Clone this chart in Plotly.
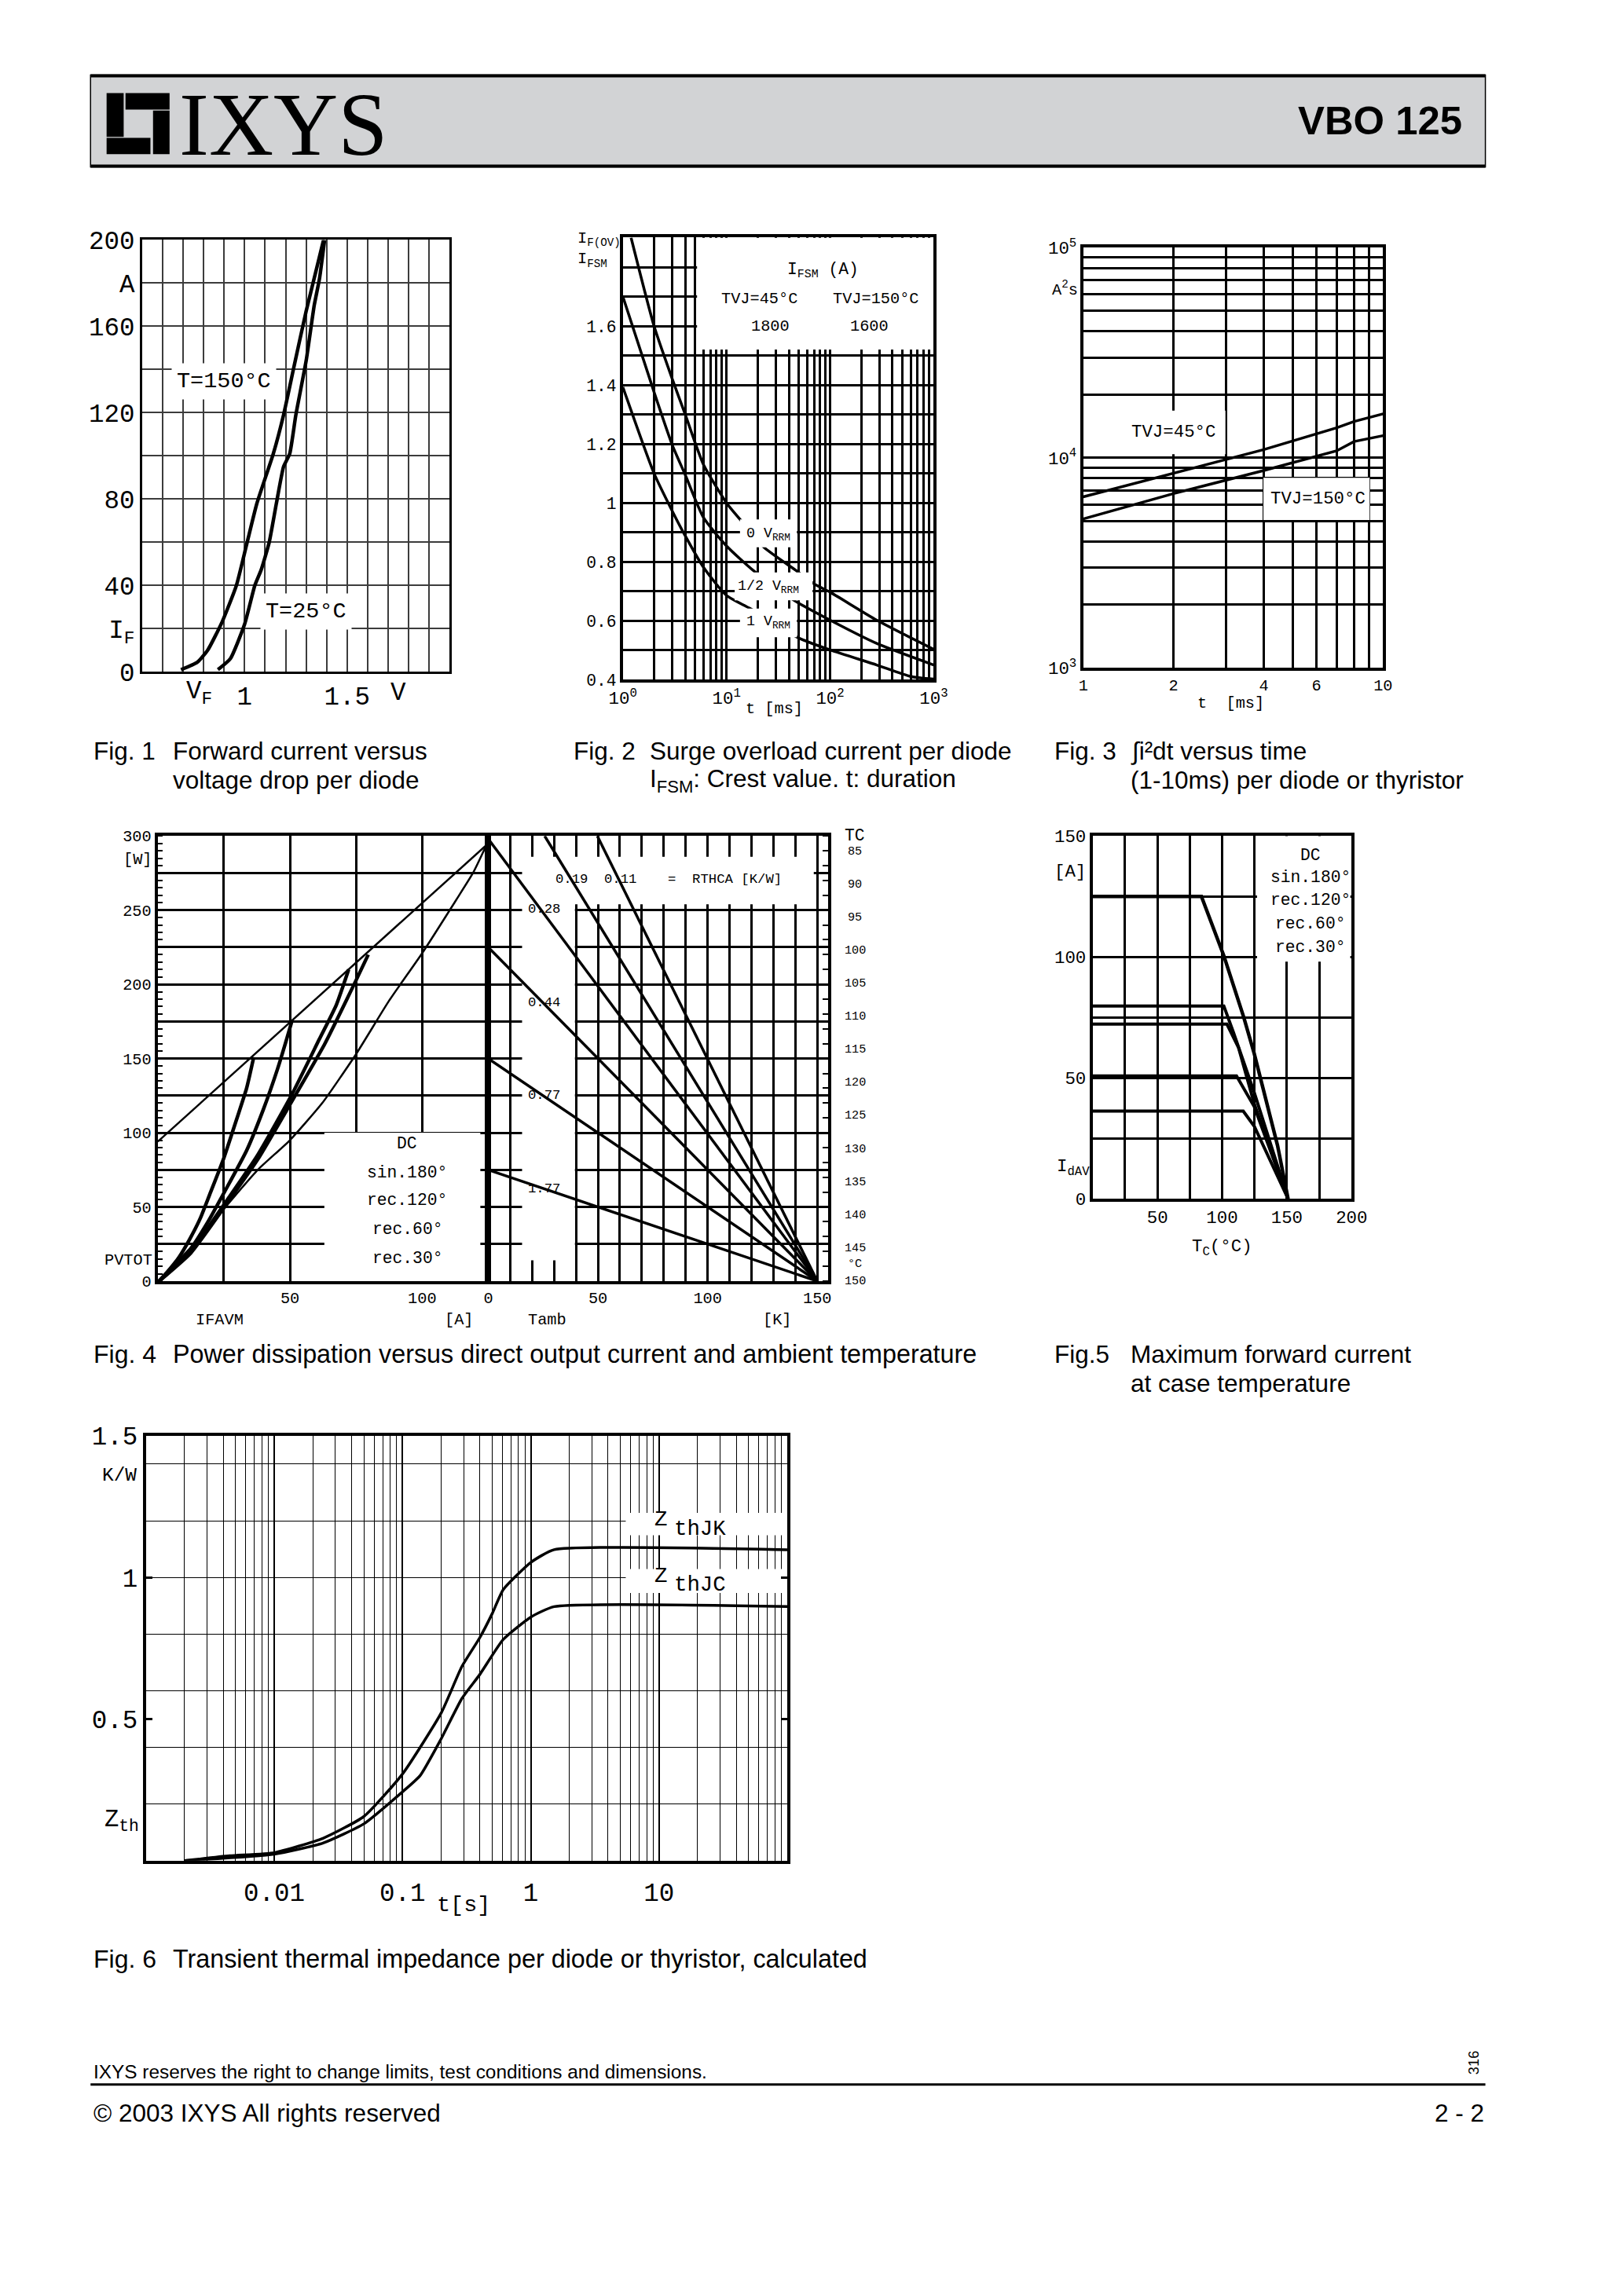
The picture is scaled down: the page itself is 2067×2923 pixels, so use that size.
import math
import plotly.graph_objects as go

W, H = 2067, 2923
MONO = "Liberation Mono"
SANS = "Liberation Sans"
SERIF = "Liberation Serif"

# ---------------- Fig. 1 : forward characteristic ----------------
f1_v150 = [0.69, 0.77, 0.82, 0.89, 0.96, 1.01, 1.06, 1.14, 1.19, 1.24, 1.30, 1.385]
f1_i150 = [1, 4.5, 10, 23, 40, 59, 78, 101, 119, 141, 167, 200]
f1_v25 = [0.87, 0.93, 1.00, 1.05, 1.08, 1.12, 1.155, 1.19, 1.22, 1.25, 1.30, 1.34, 1.365, 1.39]
f1_i25 = [1, 6, 22, 40, 47, 60, 78, 95, 101, 119, 144, 170, 182, 200]

# ---------------- Fig. 2 : surge overload current ----------------
f2_t0 = [1.2, 2, 3, 4, 6, 10, 13.5, 23, 48, 70, 100, 282, 1000]
f2_r0 = [1.9, 1.6, 1.42, 1.30, 1.13, 1.0, 0.944, 0.849, 0.768, 0.725, 0.697, 0.602, 0.503]
f2_t1 = [1, 2, 3, 4, 6, 10, 18.5, 45, 100, 282, 1000]
f2_r1 = [1.70, 1.376, 1.196, 1.095, 0.95, 0.854, 0.768, 0.669, 0.602, 0.523, 0.45]
f2_t2 = [1, 2, 3, 4, 6, 10, 17, 48, 100, 282, 600, 1000]
f2_r2 = [1.393, 1.10, 0.972, 0.888, 0.781, 0.686, 0.641, 0.544, 0.501, 0.45, 0.411, 0.402]

# ---------------- Fig. 3 : i2t ----------------
f3_t = [1, 2, 4, 7, 8, 10]
f3_i2t45 = [6520, 8470, 10950, 13900, 14900, 16200]
f3_i2t150 = [5120, 6760, 8710, 10800, 11960, 12760]

# ---------------- Fig. 4 : power dissipation ----------------
f4_env_i = [0, 125]
f4_env_p = [94, 295]
f4_r30_i = [0.5, 4, 8, 12, 16, 20, 25, 30, 33.6, 36.3]
f4_r30_p = [0, 7, 16, 28, 42, 60, 83, 110, 130, 151]
f4_r60_i = [0.5, 6, 12.5, 19, 25.2, 33.6, 40, 45.3, 48.4, 50.7]
f4_r60_p = [0, 10, 22, 40, 60, 88, 116, 143, 161, 175]
f4_r120_i = [0.5, 12.5, 25.2, 37.8, 50.5, 61.1, 67.5, 72.2]
f4_r120_p = [0, 20, 52, 85, 125, 163, 186, 210]
f4_s180_i = [0.5, 12.5, 25.2, 37.8, 50, 63.2, 74.8, 79.6]
f4_s180_p = [0, 19, 50, 82, 119, 160, 202, 220]
f4_dc_i = [0.5, 12.5, 25.2, 37.8, 50, 62.2, 75, 87.5, 100, 112.9, 119.2, 124.6]
f4_dc_p = [0, 20, 49, 75, 95, 120, 153, 189, 221, 257, 275, 295]
f4_rth_labels = ["0.11", "0.19", "0.28", "0.44", "0.77", "1.77"]
f4_rth_t0 = [49.7, 25.7, 0, 0, 0, 0]
f4_rth_p0 = [300, 300, 298, 225, 150, 75]
f4_rth_t1 = [150, 150, 150, 150, 150, 150]
f4_rth_p1 = [0, 0, 0, 0, 0, 0]
f4_tc_labels = ["85", "90", "95", "100", "105", "110", "115", "120", "125", "130", "135", "140", "145", "°C", "150"]
f4_tc_vals = [85, 90, 95, 100, 105, 110, 115, 120, 125, 130, 135, 140, 145, 147.4, 150]
f4_legend = ["DC", "sin.180°", "rec.120°", "rec.60°", "rec.30°"]

# ---------------- Fig. 5 : max forward current vs case temp ----------------
f5_dc_t = [0, 84, 101.3, 116.7, 124.8, 134.8, 142.8, 150.9]
f5_dc_i = [125, 125, 100.5, 75, 60, 39.3, 22, 0]
f5_s180_t = [0, 101.3, 108.7, 124.8, 150.9]
f5_s180_i = [79.7, 79.7, 68.8, 43.9, 0]
f5_r120_t = [0, 103.7, 112.7, 124.8, 150.9]
f5_r120_i = [72.2, 72.2, 62.4, 39.3, 0]
f5_r60_t = [0, 111.1, 124.8, 150.9]
f5_r60_i = [50.8, 50.8, 38.1, 0]
f5_r30_t = [0, 116.3, 124.8, 150.9]
f5_r30_i = [36.2, 36.2, 30, 0]

# ---------------- Fig. 6 : transient thermal impedance ----------------
f6_t_jk = [0.002, 0.0045, 0.01, 0.024, 0.05, 0.1, 0.2, 0.29, 0.4, 0.5, 0.61, 1.0, 1.52, 100]
f6_z_jk = [0, 0.017, 0.028, 0.079, 0.156, 0.306, 0.521, 0.685, 0.787, 0.872, 0.957, 1.053, 1.098, 1.098]
f6_t_jc = [0.002, 0.01, 0.024, 0.05, 0.1, 0.137, 0.2, 0.29, 0.4, 0.61, 1.0, 1.52, 100]
f6_z_jc = [0, 0.023, 0.062, 0.13, 0.243, 0.30, 0.43, 0.572, 0.657, 0.781, 0.86, 0.897, 0.897]

# page placement (target page pixels -> figure paper fractions)
OX, SX = 26.5, 0.980
OY, SY = 25.4, 0.9877
FS = 1.0 / 0.984


def X(px):
    return ((px - OX) / SX) / W


def Y(py):
    return 1 - ((py - OY) / SY) / H


fig = go.Figure()


def add_line(x, y, xa, ya, w, shape="linear", smoothing=None):
    line = dict(color="black", width=w, shape=shape)
    if smoothing is not None:
        line["smoothing"] = smoothing
    fig.add_trace(go.Scatter(x=x, y=y, xaxis=xa, yaxis=ya, mode="lines", line=line,
                             showlegend=False, hoverinfo="skip"))


def dx(a, b):
    return [X(a), X(b)]


def dy(top, bot):
    return [Y(bot), Y(top)]


def axis(dom, rng, anchor, tickvals, ticktext, gw=3, gc="black", lw=4, size=20, typ="linear",
         grid=True, **kw):
    d = dict(domain=dom, range=rng, anchor=anchor, type=typ, showline=True, mirror=True,
             linecolor="black", linewidth=lw, zeroline=False, showgrid=grid, gridcolor=gc,
             gridwidth=gw, ticks="", tickmode="array", tickvals=tickvals, ticktext=ticktext,
             tickfont=dict(family=MONO, size=round(size * FS, 1), color="black"), fixedrange=True)
    d.update(kw)
    return d


annotations = []
shapes = []


def ann(text, x, y, xref="paper", yref="paper", size=20, family=MONO, xanchor="center",
        yanchor="middle", **kw):
    a = dict(text=text, x=x, y=y, xref=xref, yref=yref, showarrow=False,
             font=dict(family=family, size=round(size * FS, 1), color="black"),
             xanchor=xanchor, yanchor=yanchor)
    a.update(kw)
    annotations.append(a)


def rect(x0, y0, x1, y1, xref, yref, layer="between", fill="white", lw=0):
    shapes.append(dict(type="rect", x0=x0, x1=x1, y0=y0, y1=y1, xref=xref, yref=yref,
                       fillcolor=fill, line=dict(width=lw, color="black"), layer=layer))


def pline(x0, y0, x1, y1, w):
    shapes.append(dict(type="line", xref="paper", yref="paper", x0=X(x0), x1=X(x1),
                       y0=Y(y0), y1=Y(y1), line=dict(color="black", width=w)))


# ================= Fig. 1 =================
add_line(f1_v150, f1_i150, "x", "y", 4.5, "spline", 0.5)
add_line(f1_v25, f1_i25, "x", "y", 4.5, "spline", 0.5)
x1_vals = [round(0.5 + 0.1 * i, 1) for i in range(16)]
x1_text = ["1" if v == 1.0 else ("1.5" if v == 1.5 else "") for v in x1_vals]
y1_vals = list(range(0, 201, 20))
y1_map = {0: "0", 20: "I<sub>F</sub>", 40: "40", 80: "80", 120: "120", 160: "160", 180: "A", 200: "200"}
y1_text = [y1_map.get(v, "") for v in y1_vals]
xa1 = axis(dx(181, 572), [0.5, 2.0], "y", x1_vals, x1_text, gw=1.6, gc="#3c3c3c", lw=2.5, size=32)
ya1 = axis(dy(307, 857), [0, 200], "x", y1_vals, y1_text, gw=1.6, gc="#3c3c3c", lw=2.5, size=32)
ann("V<sub>F</sub>", 0.78, -0.05, "x", "y domain", size=32)
ann("V", 1.75, -0.05, "x", "y domain", size=32)
ann("T=150°C", 0.9, 134.5, "x", "y", size=28, bgcolor="white", borderpad=6)
ann("T=25°C", 1.30, 28, "x", "y", size=28, bgcolor="white", borderpad=6)

# ================= Fig. 2 =================
add_line(f2_t0, f2_r0, "x2", "y2", 3.5, "spline", 0.6)
add_line(f2_t1, f2_r1, "x2", "y2", 3.5, "spline", 0.6)
add_line(f2_t2, f2_r2, "x2", "y2", 3.5, "spline", 0.6)
x2_vals = [k * 10 ** d for d in range(3) for k in range(1, 10)] + [1000]
x2_map = {1: "10<sup>0</sup>", 10: "10<sup>1</sup>", 100: "10<sup>2</sup>", 1000: "10<sup>3</sup>"}
x2_text = [x2_map.get(v, "") for v in x2_vals]
y2_vals = [round(0.4 + 0.1 * i, 1) for i in range(16)]
y2_map = {0.4: "0.4", 0.6: "0.6", 0.8: "0.8", 1.0: "1", 1.2: "1.2", 1.4: "1.4", 1.6: "1.6"}
y2_text = [y2_map.get(v, "") for v in y2_vals]
xa2 = axis(dx(792, 1187), [0, 3], "y2", x2_vals, x2_text, typ="log", size=22)
ya2 = axis(dy(304, 867), [0.4, 1.9], "x2", y2_vals, y2_text, size=21)
rect(5.2, 1.52, 1000, 1.9, "x2", "y2")
ann("I<sub>FSM</sub> (A)", math.log10(85), 1.79, "x2", "y2", size=21)
ann("TVJ=45°C", math.log10(20.8), 1.693, "x2", "y2", size=20)
ann("TVJ=150°C", math.log10(277), 1.693, "x2", "y2", size=20)
ann("1800", math.log10(26.6), 1.60, "x2", "y2", size=20)
ann("1600", math.log10(241), 1.60, "x2", "y2", size=20)
rect(13.5, 0.849, 47.8, 0.944, "x2", "y2", layer="above")
rect(12.0, 0.669, 67.7, 0.764, "x2", "y2", layer="above")
rect(13.5, 0.544, 47.8, 0.641, "x2", "y2", layer="above")
ann("0 V<sub>RRM</sub>", math.log10(25.4), 0.893, "x2", "y2", size=18)
ann("1/2 V<sub>RRM</sub>", math.log10(25.4), 0.714, "x2", "y2", size=18)
ann("1 V<sub>RRM</sub>", math.log10(25.4), 0.593, "x2", "y2", size=18)
ann("t [ms]", math.log10(28.7), -0.066, "x2", "y2 domain", size=20)
ann("I<sub>F(OV)</sub><br>I<sub>FSM</sub>", -0.003, 0.972, "x2 domain", "y2 domain", size=20,
    xanchor="right", align="left")

# ================= Fig. 3 =================
add_line(f3_t, f3_i2t45, "x3", "y3", 3.5)
add_line(f3_t, f3_i2t150, "x3", "y3", 3.5)
x3_vals = list(range(1, 11))
x3_map = {1: "1", 2: "2", 4: "4", 6: "6", 10: "10"}
x3_text = [x3_map.get(v, "") for v in x3_vals]
y3_vals = [k * 10 ** d for d in (3, 4) for k in range(1, 10)] + [100000]
y3_map = {1000: "10<sup>3</sup>", 10000: "10<sup>4</sup>", 100000: "10<sup>5</sup>"}
y3_text = [y3_map.get(v, "") for v in y3_vals]
xa3 = axis(dx(1377, 1758), [0, 1], "y3", x3_vals, x3_text, typ="log", size=20)
ya3 = axis(dy(317, 852), [3, 5], "x3", y3_vals, y3_text, typ="log", size=22)
rect(1.0, 10400, 2.98, 16800, "x3", "y3")
rect(3.99, 5060, 9.02, 8040, "x3", "y3")
ann("TVJ=45°C", math.log10(2.01), math.log10(13240), "x3", "y3", size=22)
ann("TVJ=150°C", math.log10(6.06), math.log10(6400), "x3", "y3", size=22)
ann("A<sup>2</sup>s", -0.012, math.log10(64000), "x3 domain", "y3", size=20, xanchor="right")
ann("t  [ms]", math.log10(3.1), -0.085, "x3", "y3 domain", size=20)

# ================= Fig. 4 left =================
add_line(f4_env_i, f4_env_p, "x4", "y4", 2.5)
add_line(f4_dc_i, f4_dc_p, "x4", "y4", 2.5, "spline", 0.5)
add_line(f4_s180_i, f4_s180_p, "x4", "y4", 4.5, "spline", 0.5)
add_line(f4_r120_i, f4_r120_p, "x4", "y4", 4.5, "spline", 0.5)
add_line(f4_r60_i, f4_r60_p, "x4", "y4", 4.5, "spline", 0.5)
add_line(f4_r30_i, f4_r30_p, "x4", "y4", 4.5, "spline", 0.5)
x4_vals = [0, 25, 50, 75, 100, 125]
x4_text = ["", "", "50", "", "100", ""]
y4_vals = list(range(0, 301, 25))
y4_text = [str(v) if v % 50 == 0 else "" for v in y4_vals]
xa4 = axis(dx(201, 621), [0, 125], "y4", x4_vals, x4_text, size=20)
ya4 = axis(dy(1066, 1633), [0, 300], "x4", y4_vals, y4_text, size=20,
           minor=dict(dtick=5, tick0=0, ticks="inside", ticklen=6, tickwidth=1.5, tickcolor="black",
                      showgrid=False))
rect(63, 0, 122, 100, "x4", "y4")
for lab, yv in zip(f4_legend, [92.5, 73.2, 54.4, 34.8, 15.5]):
    ann(lab, 94.4, yv, "x4", "y4", size=21)
ann("[W]", -0.012, 284, "x4 domain", "y4", size=20, xanchor="right")
ann("PVTOT", -0.012, 14, "x4 domain", "y4", size=20, xanchor="right")
ann("IFAVM", 23.5, -0.088, "x4", "y4 domain", size=20)
ann("[A]", 114, -0.088, "x4", "y4 domain", size=20)

# ================= Fig. 4 right =================
for t0, p0, t1, p1 in zip(f4_rth_t0, f4_rth_p0, f4_rth_t1, f4_rth_p1):
    add_line([t0, t1], [p0, p1], "x5", "y5", 3.5)
fig.add_trace(go.Scatter(x=[0], y=[150], xaxis="x5", yaxis="y6", mode="markers",
                         marker=dict(opacity=0), showlegend=False, hoverinfo="skip"))
x5_vals = list(range(0, 151, 10))
x5_text = [str(v) if v in (0, 50, 100, 150) else "" for v in x5_vals]
xa5 = axis(dx(621, 1053), [0, 155], "y5", x5_vals, x5_text, size=20)
ya5 = axis(dy(1066, 1633), [0, 300], "x5", y4_vals, ["" for _ in y4_vals], size=20, side="right",
           showticklabels=False,
           minor=dict(dtick=10, tick0=0, ticks="inside", ticklen=7, tickwidth=2, tickcolor="black",
                      showgrid=False))
ya6 = dict(overlaying="y5", anchor="x5", side="right", range=[150, 82.71], showgrid=False,
           showline=False, zeroline=False, ticks="", showticklabels=False, fixedrange=True)
for lab, tv in zip(f4_tc_labels, f4_tc_vals):
    ann(lab, 1.079, tv, "x5 domain", "y6", size=15)
rect(15.4, 254, 148.4, 286, "x5", "y5")
rect(15.4, 14, 39.5, 254, "x5", "y5")
ann("0.19", 37.8, 270.7, "x5", "y5", size=17)
ann("0.11", 60.3, 270.7, "x5", "y5", size=17)
ann("=  RTHCA [K/W]", 108, 270.7, "x5", "y5", size=17)
for lab, yv in zip(["0.28", "0.44", "0.77", "1.77"], [250.7, 187.5, 125.4, 62.1]):
    ann(lab, 25.6, yv, "x5", "y5", size=17)
ann("TC", 1.079, 1.0, "x5 domain", "y5 domain", size=21)
ann("Tamb", 27, -0.088, "x5", "y5 domain", size=20)
ann("[K]", 132, -0.088, "x5", "y5 domain", size=20)

# ================= Fig. 5 =================
add_line(f5_dc_t, f5_dc_i, "x7", "y7", 4.5)
add_line(f5_s180_t, f5_s180_i, "x7", "y7", 4)
add_line(f5_r120_t, f5_r120_i, "x7", "y7", 4)
add_line(f5_r60_t, f5_r60_i, "x7", "y7", 4)
add_line(f5_r30_t, f5_r30_i, "x7", "y7", 4)
x7_vals = list(range(0, 201, 25))
x7_text = [str(v) if v in (50, 100, 150, 200) else "" for v in x7_vals]
y7_vals = list(range(0, 151, 25))
y7_text = [str(v) if v in (0, 50, 100, 150) else "" for v in y7_vals]
xa7 = axis(dx(1389, 1718), [0, 200], "y7", x7_vals, x7_text, size=22)
ya7 = axis(dy(1066, 1528), [0, 150], "x7", y7_vals, y7_text, size=22)
rect(127, 98, 199, 150, "x7", "y7")
for lab, yv in zip(f4_legend, [142.1, 132.9, 123.4, 113.6, 104]):
    ann(lab, 168, yv, "x7", "y7", size=21)
ann("[A]", -0.02, 135, "x7 domain", "y7", size=22, xanchor="right")
ann("I<sub>dAV</sub>", -0.005, 13, "x7 domain", "y7", size=22, xanchor="right")
ann("T<sub>C</sub>(°C)", 100, -0.135, "x7", "y7 domain", size=22)

# ================= Fig. 6 =================
add_line(f6_t_jk, f6_z_jk, "x8", "y8", 3.5, "spline", 0.5)
add_line(f6_t_jc, f6_z_jc, "x8", "y8", 3.5, "spline", 0.5)
x8_vals = [0.001, 0.01, 0.1, 1, 10, 100]
x8_text = ["", "0.01", "0.1", "1", "10", ""]
x8_minor = [k * 10.0 ** d for d in range(-3, 2) for k in range(2, 10)]
y8_minor = [0.2, 0.4, 0.6, 0.8, 1.0, 1.2, 1.4]
xa8 = axis(dx(186, 1001), [-3, 2], "y8", x8_vals, x8_text, typ="log", size=32, gw=1.6,
           ticklabelstandoff=8,
           minor=dict(tickmode="array", tickvals=x8_minor, showgrid=True, gridcolor="black",
                      gridwidth=1, ticks=""))
ya8 = axis(dy(1830, 2371), [0, 1.5], "x8", [0.5, 1.0, 1.5], ["0.5", "1", "1.5"], size=32, grid=False,
           ticks="inside", ticklen=8, tickwidth=3, tickcolor="black",
           minor=dict(tickmode="array", tickvals=y8_minor, showgrid=True, gridcolor="black",
                      gridwidth=1, ticks=""))
ya8["mirror"] = "ticks"
rect(5.5, 1.149, 100, 1.228, "x8", "y8")
rect(5.5, 0.945, 100, 1.03, "x8", "y8")
ann("Z", math.log10(10.3), 1.205, "x8", "y8", size=27)
ann("thJK", math.log10(20.9), 1.172, "x8", "y8", size=27)
ann("Z", math.log10(10.3), 1.005, "x8", "y8", size=27)
ann("thJC", math.log10(20.9), 0.974, "x8", "y8", size=27)
ann("K/W", -0.012, 1.36, "x8 domain", "y8", size=24, xanchor="right")
ann("Z<sub>th</sub>", -0.008, 0.14, "x8 domain", "y8", size=30, xanchor="right")
ann("t[s]", math.log10(0.3), -0.105, "x8", "y8 domain", size=28)

# ================= Header / page furniture =================
shapes.append(dict(type="rect", xref="paper", yref="paper", x0=X(115.6), x1=X(1888),
                   y0=Y(214), y1=Y(97), fillcolor="#d2d3d5",
                   line=dict(color="black", width=1.5), layer="below"))
pline(115.6, 98, 1888, 98, 4)
pline(115.6, 213, 1888, 213, 4)
for (x0, y0, x1, y1) in [(136, 120, 157.7, 175.7), (160, 120, 216, 141), (195, 142.3, 216, 197.7),
                         (136, 177, 191.7, 197.7)]:
    shapes.append(dict(type="rect", xref="paper", yref="paper", x0=X(x0), x1=X(x1),
                       y0=Y(y1), y1=Y(y0), fillcolor="black", line=dict(width=0)))
ann("IXYS", X(226), Y(160), size=112, family=SERIF, xanchor="left")
ann("<b>VBO 125</b>", X(1860), Y(155), size=50, family=SANS, xanchor="right")

captions = [
    ("Fig. 1", 117, 958, 31), ("Forward current versus", 218, 958, 31),
    ("voltage drop per diode", 218, 995, 31),
    ("Fig. 2", 727, 958, 31), ("Surge overload current per diode", 824, 958, 31),
    ("I<sub>FSM</sub>: Crest value. t: duration", 824, 995, 31),
    ("Fig. 3", 1338, 958, 31), ("\u222bi\u00b2dt versus time", 1435, 958, 31),
    ("(1-10ms) per diode or thyristor", 1435, 995, 31),
    ("Fig. 4", 117, 1726, 31.5),
    ("Power dissipation versus direct output current and ambient temperature", 218, 1726, 31.8),
    ("Fig.5", 1338, 1726, 31), ("Maximum forward current", 1435, 1726, 31),
    ("at case temperature", 1435, 1763, 31),
    ("Fig. 6", 117, 2496, 31.5),
    ("Transient thermal impedance per diode or thyristor, calculated", 218, 2496, 31.8),
]
for text, xp, yp, sz in captions:
    ann(text, X(xp), Y(yp), size=sz, family=SANS, xanchor="left")

ann("IXYS reserves the right to change limits, test conditions and dimensions.", X(117),
    Y(2640), size=24, family=SANS, xanchor="left")
pline(115.6, 2656, 1888, 2656, 3)
ann("\u00a9 2003 IXYS All rights reserved", X(117), Y(2692), size=31, family=SANS,
    xanchor="left")
ann("2 - 2", X(1888), Y(2692), size=31, family=SANS, xanchor="right")
ann("316", X(1873), Y(2628), size=18, family=SANS, textangle=-90)

fig.update_layout(
    width=W, height=H, autosize=False, margin=dict(l=0, r=0, t=0, b=0),
    paper_bgcolor="white", plot_bgcolor="white", showlegend=False,
    xaxis=xa1, yaxis=ya1, xaxis2=xa2, yaxis2=ya2, xaxis3=xa3, yaxis3=ya3,
    xaxis4=xa4, yaxis4=ya4, xaxis5=xa5, yaxis5=ya5, yaxis6=ya6,
    xaxis7=xa7, yaxis7=ya7, xaxis8=xa8, yaxis8=ya8,
    annotations=annotations, shapes=shapes,
)

fig.write_html("out.html")
